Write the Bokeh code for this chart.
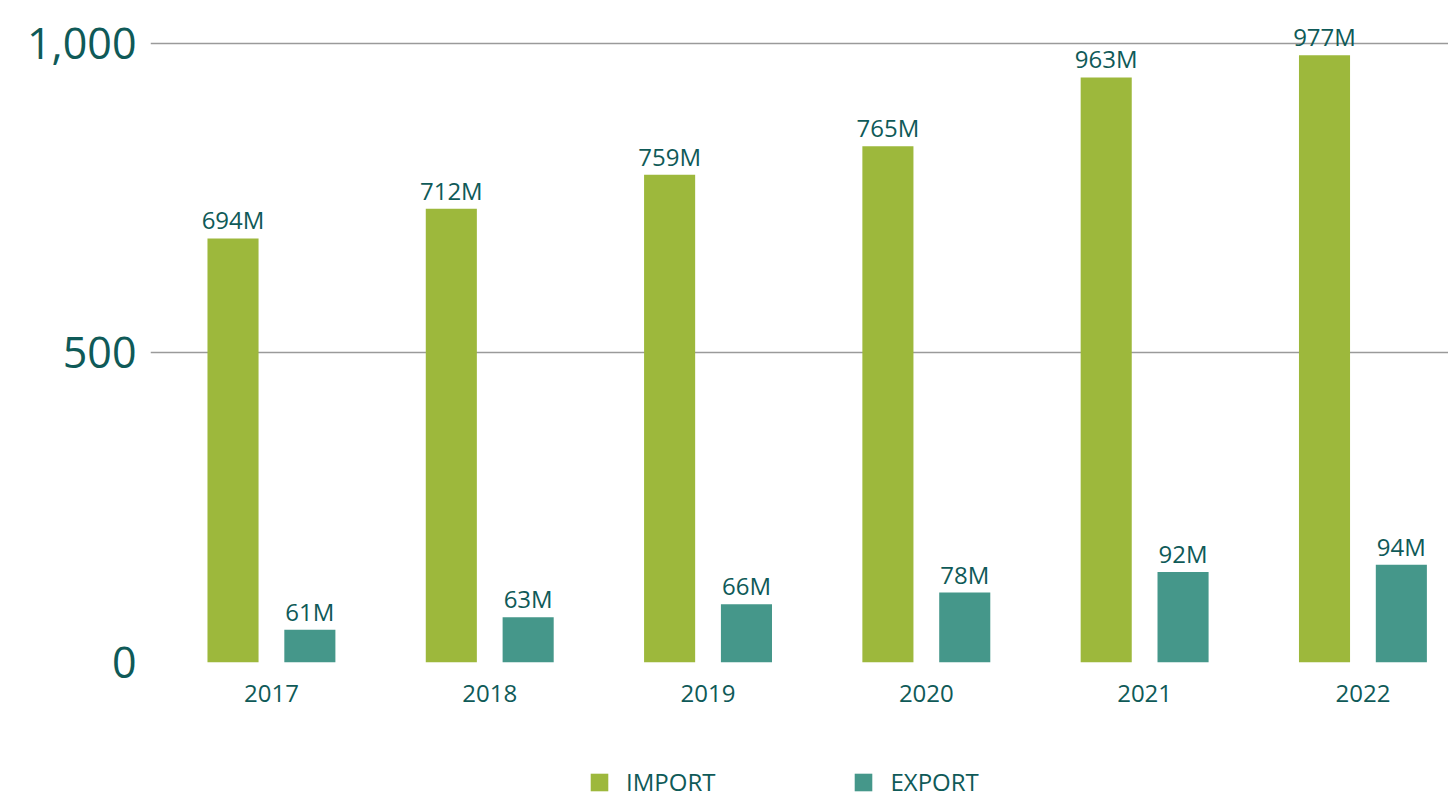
from bokeh.plotting import figure
from bokeh.layouts import column
from bokeh.models import (ColumnDataSource, FixedTicker, Range1d, LabelSet,
                          Legend, LegendItem, NumeralTickFormatter)
from bokeh.core.properties import value
from bokeh.embed import file_html
from bokeh.resources import INLINE

years = ["2017", "2018", "2019", "2020", "2021", "2022"]
import_heights = [685, 733, 788, 834, 945, 981]
export_heights = [53, 73, 94, 113, 146, 158]
import_labels = ["694M", "712M", "759M", "765M", "963M", "977M"]
export_labels = ["61M", "63M", "66M", "78M", "92M", "94M"]
series_names = ["IMPORT", "EXPORT"]

IMP = "#9db83c"
EXP = "#45978a"
TXT = "#0f5a58"
FONT = "Open Sans"

idx = list(range(len(years)))
off = 0.176
bw = 0.234

src_i = ColumnDataSource(dict(x=[i - off for i in idx], top=import_heights, lab=import_labels))
src_e = ColumnDataSource(dict(x=[i + off for i in idx], top=export_heights, lab=export_labels))

p = figure(frame_width=1298, frame_height=642, output_backend="svg", toolbar_location=None,
           x_range=Range1d(-0.554, 5.392), y_range=Range1d(0, 1037),
           min_border_left=150, min_border_right=0, min_border_top=20,
           min_border_bottom=70)
p.outline_line_color = None

ri = p.vbar(x="x", top="top", width=bw, source=src_i, color=IMP, line_color=None)
re = p.vbar(x="x", top="top", width=bw, source=src_e, color=EXP, line_color=None)

for s in (src_i, src_e):
    p.add_layout(LabelSet(x="x", y="top", text="lab", source=s, y_offset=9,
                          text_align="center", text_baseline="alphabetic",
                          text_font=value(FONT), text_font_size="24px", text_color=TXT))

p.xgrid.visible = False
p.ygrid.ticker = FixedTicker(ticks=[0, 500, 1000])
p.ygrid.grid_line_color = "#9a9a9a"
p.ygrid.grid_line_width = 1.5

p.yaxis.ticker = FixedTicker(ticks=[0, 500, 1000])
p.yaxis.formatter = NumeralTickFormatter(format="0,0")
p.yaxis.axis_line_color = None
p.yaxis.major_tick_line_color = None
p.yaxis.minor_tick_line_color = None
p.yaxis.major_label_text_font = FONT
p.yaxis.major_label_text_font_size = "43px"
p.yaxis.major_label_text_color = TXT
p.yaxis.major_label_standoff = 8

p.xaxis.ticker = FixedTicker(ticks=idx)
p.xaxis.major_label_overrides = {i: y for i, y in zip(idx, years)}
p.xaxis.axis_line_color = None
p.xaxis.major_tick_line_color = None
p.xaxis.minor_tick_line_color = None
p.xaxis.major_label_text_font = FONT
p.xaxis.major_label_text_font_size = "24px"
p.xaxis.major_label_text_color = TXT
p.xaxis.major_label_standoff = 16

# legend strip below the chart (its swatch renderers sit outside the visible range)
p2 = figure(width=1448, height=66, output_backend="svg", toolbar_location=None,
            x_axis_type=None, y_axis_type=None,
            x_range=Range1d(0, 1), y_range=Range1d(0, 1),
            min_border=0)
p2.outline_line_color = None
p2.xgrid.visible = False
p2.ygrid.visible = False
li = p2.vbar(x=[5], top=[1], width=0.1, color=IMP, line_color=None)
le = p2.vbar(x=[5], top=[1], width=0.1, color=EXP, line_color=None)
legend = Legend(items=[LegendItem(label=series_names[0], renderers=[li]),
                       LegendItem(label=series_names[1], renderers=[le])],
                orientation="horizontal", location=(438, 0),
                border_line_color=None, background_fill_alpha=0,
                glyph_width=22, glyph_height=22, label_standoff=16, spacing=137,
                label_text_font=FONT, label_text_font_size="24px",
                label_text_color=TXT, margin=0, padding=0, label_height=24)
p2.add_layout(legend)

open("out.html", "w").write(file_html(column(p, p2, spacing=0), INLINE))
